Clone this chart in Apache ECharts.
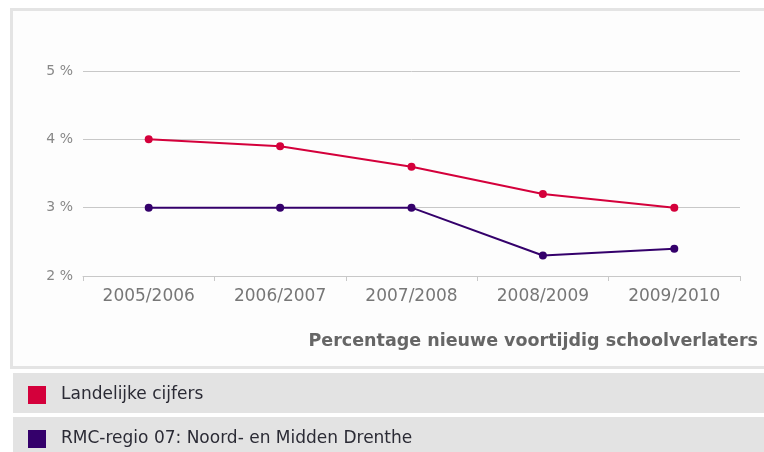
<!DOCTYPE html>
<html>
<head>
<meta charset="utf-8">
<script src="https://cdn.jsdelivr.net/npm/echarts@6/dist/echarts.min.js"></script>
<style>
  html, body { margin: 0; padding: 0; background: #fff; }
  #chart { width: 764px; height: 452px; }
</style>
</head>
<body>
<div id="chart"></div>
<script>
// schooljaren op de x-as
const years = ["2005/2006", "2006/2007", "2007/2008", "2008/2009", "2009/2010"];
// percentages per reeks
const landelijk = [4.0, 3.9, 3.6, 3.2, 3.0];
const regio07 = [3.0, 3.0, 3.0, 2.3, 2.4];
const seriesNames = ["Landelijke cijfers", "RMC-regio 07: Noord- en Midden Drenthe"];
const axisTitle = "Percentage nieuwe voortijdig schoolverlaters";

const RED = "#d4003b";
const PURPLE = "#34006b";
const FONT = "DejaVu Sans";

const chart = echarts.init(document.getElementById("chart"));

chart.setOption({
  animation: false,
  backgroundColor: "#fff",
  graphic: [
    {
      type: "rect",
      z: -10,
      shape: { x: 11.5, y: 9.5, width: 800, height: 358 },
      style: { fill: "#fdfdfd", stroke: "#e4e4e4", lineWidth: 3 },
    },
    {
      type: "rect",
      z: -10,
      shape: { x: 13, y: 373, width: 760, height: 40 },
      style: { fill: "#e3e3e3" },
    },
    {
      type: "rect",
      z: -10,
      shape: { x: 13, y: 417, width: 760, height: 40 },
      style: { fill: "#e3e3e3" },
    },
  ],
  title: {
    text: axisTitle,
    right: 6,
    top: 332,
    padding: 0,
    textStyle: { fontFamily: FONT, fontSize: 17.5, fontWeight: "bold", color: "#666" },
  },
  legend: {
    orient: "vertical",
    left: 28,
    top: 386,
    padding: 0,
    itemWidth: 18,
    itemHeight: 18,
    itemGap: 26,
    icon: "rect",
    data: seriesNames,
    textStyle: { fontFamily: FONT, fontSize: 17, color: "#2b2b35", padding: [0, 0, 0, 10] },
  },
  grid: { left: 83, right: 24, top: 71, bottom: 176 },
  xAxis: {
    type: "category",
    data: years,
    boundaryGap: true,
    axisLine: { lineStyle: { color: "#c8c8c8", width: 1 } },
    axisTick: { show: true, length: 5, lineStyle: { color: "#c8c8c8" } },
    axisLabel: { fontFamily: FONT, fontSize: 17, color: "#777", margin: 12 },
  },
  yAxis: {
    type: "value",
    min: 2,
    max: 5,
    interval: 1,
    axisLine: { show: false },
    axisTick: { show: false },
    splitLine: { lineStyle: { color: "#c8c8c8", width: 1 } },
    axisLabel: {
      fontFamily: FONT,
      fontSize: 14,
      color: "#888",
      margin: 10,
      formatter: "{value} %",
    },
  },
  series: [
    {
      name: seriesNames[0],
      type: "line",
      data: landelijk,
      symbol: "circle",
      symbolSize: 8,
      lineStyle: { color: RED, width: 2 },
      itemStyle: { color: RED },
    },
    {
      name: seriesNames[1],
      type: "line",
      data: regio07,
      symbol: "circle",
      symbolSize: 8,
      lineStyle: { color: PURPLE, width: 2 },
      itemStyle: { color: PURPLE },
    },
  ],
});
</script>
</body>
</html>
